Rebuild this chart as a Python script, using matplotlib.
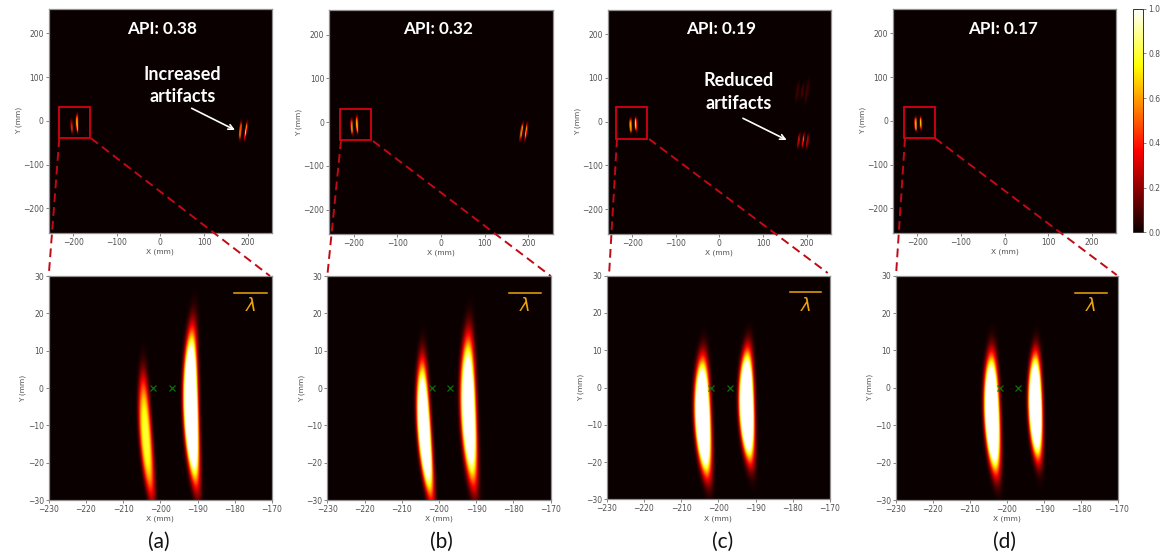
import numpy as np
import matplotlib
matplotlib.use("Agg")
import matplotlib.pyplot as plt
from matplotlib.patches import Rectangle

W, H = 1162, 556

# Streak readings: (x_top, x_mid, x_bottom, y_mid, half_visible_length, half_visible_width, peak)
focus_a = [(-204.8, -204.1, -202.0, -13, 20, 2.0, 0.8), (-191.3, -192.0, -190.0, -5, 26, 2.55, 1.7)]
focus_b = [(-204.4, -204.0, -201.5, -11, 23, 2.3, 1.45), (-191.9, -192.1, -190.2, -6, 25, 2.65, 1.4)]
focus_c = [(-204.2, -204.4, -202.7, -8, 20, 2.75, 1.7), (-192.1, -192.6, -191.2, -5, 19, 2.6, 1.7)]
focus_d = [(-204.2, -204.2, -202.7, -7, 20, 2.65, 1.7), (-192.3, -192.5, -191.4, -5, 18, 2.4, 1.6)]

artifact_a = [(184, 181.5, 179.5, -22, 26, 2.3, 1.2), (198, 194, 190, -22, 26, 2.3, 1.1)]
artifact_b = [(188, 184, 180, -22, 25, 2.3, 1.4), (198, 194.5, 191, -22, 25, 2.3, 1.0)]
artifact_c = [(183, 180, 177, -42, 20, 2.0, 0.65), (193, 190, 187, -42, 20, 2.0, 0.8), (203, 200, 197, -44, 20, 2.0, 0.55),
              (179, 177, 175, 70, 14, 2.0, 0.12), (190, 188, 186, 70, 14, 2.0, 0.16), (201, 199, 197, 70, 14, 2.0, 0.11)]
artifact_d = []

api_labels = ["API: 0.38", "API: 0.32", "API: 0.19", "API: 0.17"]
captions = ["(a)", "(b)", "(c)", "(d)"]
overview_ticks = [-200, -100, 0, 100, 200]
zoom_xticks = [-230, -220, -210, -200, -190, -180, -170]
zoom_yticks = [-30, -20, -10, 0, 10, 20, 30]
element_x = [-202, -197]
element_y = [0, 0]
cbar_ticks = [0.0, 0.2, 0.4, 0.6, 0.8, 1.0]

# Pixel boxes (left, right, top, bottom)
top_boxes = [(48.7, 272, 9, 232.7), (329.3, 552.7, 10.3, 234), (607.7, 831, 9.7, 233.7), (893, 1116.3, 9, 232.7)]
bot_boxes = [(48.7, 272, 276, 500), (327.3, 550.7, 276, 500), (606.7, 830, 275.7, 499.3), (895.7, 1118.3, 275.7, 500)]
red_boxes = [(59.3, 90.3, 107, 138.3), (340.3, 371.3, 109, 140.3), (616, 647.3, 107, 138.7), (903.7, 934.7, 107, 138.3)]
left_links = [((59.3, 138.3), (48.7, 276)), ((341, 140.3), (327.3, 276)), ((617, 138.7), (609, 275.7)), ((905, 138.3), (896, 275.7))]
right_links = [((91, 138.3), (270, 276)), ((373, 141), (550.7, 276)), ((649, 139), (827.7, 273)), ((935, 138.3), (1116.7, 275))]
lambda_bars = [(-180.1, -171.4), (-181.2, -172.6), (-180.8, -172.3), (-181.7, -173.0)]
api_xy = [(161.7, 29.3), (438.3, 29), (721, 28.5), (1003, 29)]
caption_xy = [(159.3, 542), (441, 542), (722.7, 542), (1005, 542)]


def field(streaks, X, Y):
    out = np.zeros_like(X)
    for xt, xm, xb, y0, hl, hw, peak in streaks:
        k = np.log(max(peak, 0.11) / 0.1)
        t = (Y - y0) / hl
        xc = xm + 0.5 * (xt - xb) * t + 0.5 * (xt + xb - 2 * xm) * t * t
        r2 = t ** 2 + ((X - xc) / hw) ** 2
        out += peak * np.exp(-k * r2 ** 1.7)
    return out


def axpos(box):
    l, r, t, b = box
    return [l / W, 1 - b / H, (r - l) / W, (b - t) / H]


def style(ax):
    for s in ax.spines.values():
        s.set_color("#909090")
        s.set_linewidth(0.9)
    ax.tick_params(labelsize=5.5, length=2, width=0.5, pad=1.5, colors="#505050")
    ax.set_xlabel("X (mm)", fontsize=5.4, labelpad=1.5, color="#505050")
    ax.set_ylabel("Y (mm)", fontsize=5.4, labelpad=1, color="#505050")


fig = plt.figure(figsize=(W / 100, H / 100), dpi=100)

# Overview grid: fine sampling averaged down to the displayed resolution
fine = np.linspace(-256, 256, 1000, endpoint=False) + 0.256
FX, FY = np.meshgrid(fine, fine)
blocks = 5
# Zoom grid
zg = np.linspace(-230, -170, 450)
zy = np.linspace(-30, 30, 450)
ZX, ZY = np.meshgrid(zg, zy)

focus_sets = [focus_a, focus_b, focus_c, focus_d]
artifact_sets = [artifact_a, artifact_b, artifact_c, artifact_d]

im = None
for i in range(4):
    ax = fig.add_axes(axpos(top_boxes[i]))
    data = np.clip(field(focus_sets[i] + artifact_sets[i], FX, FY), 0, 1)
    n = data.shape[0] // blocks
    coarse = data.reshape(n, blocks, n, blocks).mean(axis=(1, 3)) * 0.72
    im = ax.imshow(coarse, origin="lower", extent=[-256, 256, -256, 256], cmap="hot", vmin=0, vmax=1,
                   interpolation="bilinear", aspect="auto")
    ax.set_xticks(overview_ticks)
    ax.set_yticks(overview_ticks)
    style(ax)

    ax = fig.add_axes(axpos(bot_boxes[i]))
    ax.imshow(field(focus_sets[i], ZX, ZY), origin="lower", extent=[-230, -170, -30, 30], cmap="hot", vmin=0, vmax=1,
              interpolation="bilinear", aspect="auto")
    ax.plot(element_x, element_y, ls="none", marker="x", ms=5, mew=0.9, color="#0a700a")
    ax.plot(lambda_bars[i], [25.5, 25.5], color="#eda60a", lw=1.1)
    ax.text(sum(lambda_bars[i]) / 2, 22.0, r"$\lambda$", color="#eda60a", fontsize=13, ha="center", va="center")
    ax.set_xlim(-230, -170)
    ax.set_ylim(-30, 30)
    ax.set_xticks(zoom_xticks)
    ax.set_yticks(zoom_yticks)
    style(ax)

# Colour bar
cax = fig.add_axes(axpos((1132.7, 1143.3, 8.7, 232.3)))
cb = fig.colorbar(im, cax=cax, ticks=cbar_ticks)
cb.ax.tick_params(labelsize=5.5, length=2, width=0.5, pad=1.5, colors="#505050")
cb.outline.set_linewidth(0.7)
cb.outline.set_edgecolor("#333333")

# Pixel-space overlay for labels, call-outs and connectors
ov = fig.add_axes([0, 0, 1, 1], zorder=10)
ov.set_xlim(0, W)
ov.set_ylim(H, 0)
ov.axis("off")
ov.patch.set_alpha(0)

red = "#c00a14"
for i in range(4):
    l, r, t, b = red_boxes[i]
    ov.add_patch(Rectangle((l, t), r - l, b - t, fill=False, ec="#d80010", lw=1.3))
    for p, q in (left_links[i], right_links[i]):
        ov.plot([p[0], q[0]], [p[1], q[1]], color=red, lw=1.4, ls=(0, (4.5, 2.6)))
    ov.text(*api_xy[i], api_labels[i], color="white", fontsize=12.3, family="Lato", weight="bold", ha="center", va="center")
    ov.text(*caption_xy[i], captions[i], color="#111111", fontsize=15, family="Lato", ha="center", va="center")

ov.text(182.3, 85.5, "Increased\nartifacts", color="white", fontsize=13, family="Lato", weight="bold",
        ha="center", va="center", linespacing=1.42)
ov.text(739, 92, "Reduced\nartifacts", color="white", fontsize=13, family="Lato", weight="bold",
        ha="center", va="center", linespacing=1.42)
for start, end in (((191.7, 108.3), (235, 130)), ((743, 118.3), (786.7, 140))):
    ov.annotate("", xy=end, xytext=start, xycoords="data",
                arrowprops=dict(arrowstyle="->", color="white", lw=1.2, shrinkA=0, shrinkB=0, mutation_scale=9))

fig.savefig("out.png", dpi=100)
